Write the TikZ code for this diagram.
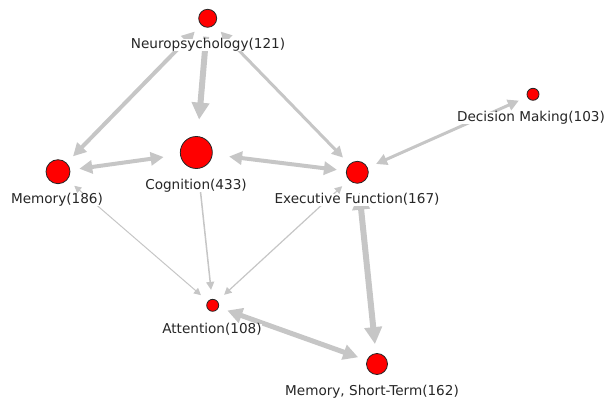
\documentclass[tikz,border=0pt]{standalone}
\usepackage{fontspec}
\setmainfont{DejaVu Sans}
\usetikzlibrary{arrows.meta}
\definecolor{edgec}{RGB}{198,198,198}
\definecolor{nodered}{RGB}{255,0,0}
\begin{document}
\begin{tikzpicture}[x=1pt,y=-1pt,
  vertex/.style={circle,fill=nodered,draw=black!85,line width=0.8pt,inner sep=0pt,outer sep=9.5pt},
  lab/.style={fill=white,inner xsep=0.5pt,inner ysep=0pt,text height=9.5pt,text depth=2.5pt,font=\fontsize{13.6}{15}\selectfont,text=black!85},
  link/.style={draw=edgec,line width=#1,-{Triangle[length=5pt 2,width=5pt 2]}},
  blink/.style={draw=edgec,line width=#1,{Triangle[length=5pt 2,width=5pt 2]}-{Triangle[length=5pt 2,width=5pt 2]}}
]
\useasboundingbox (0,0) rectangle (607,403);
% nodes
\node[vertex,minimum size=18pt] (neu) at (207.7,18.3) {};
\node[vertex,minimum size=32pt,outer sep=17pt] (cog) at (196.3,152.5) {};
\node[vertex,minimum size=24pt] (mem) at (58,171.7) {};
\node[vertex,minimum size=22pt] (exe) at (357.3,172.3) {};
\node[vertex,minimum size=12pt] (dec) at (533,94.3) {};
\node[vertex,minimum size=12pt] (att) at (212.7,305.3) {};
\node[vertex,minimum size=21pt] (mst) at (377,364) {};
% edges
\draw[blink=4pt] (neu) -- (mem);
\draw[link=6pt] (neu) -- (cog);
\draw[blink=3pt] (neu) -- (exe);
\draw[blink=4pt] (mem) -- (cog);
\draw[blink=4pt] (exe) -- (cog);
\draw[blink=3pt] (dec) -- (exe);
\draw[blink=1pt] (mem) -- (att);
\draw[link=1.5pt] (cog) -- (att);
\draw[blink=1.2pt] (exe) -- (att);
\draw[blink=5pt] (att) -- (mst);
\draw[blink=6pt] (exe) -- (mst);
% labels
\node[lab] (lneu) at (208,45) {Neuropsychology(121)};
\node[lab] (lcog) at (196,186) {Cognition(433)};
\node[lab] (lmem) at (57,200) {Memory(186)};
\node[lab] (lexe) at (357,200) {Executive Function(167)};
\node[lab] (ldec) at (531,118) {Decision Making(103)};
\node[lab] (latt) at (212,330) {Attention(108)};
\node[lab] (lmst) at (372,392) {Memory, Short-Term(162)};
\end{tikzpicture}
\end{document}
